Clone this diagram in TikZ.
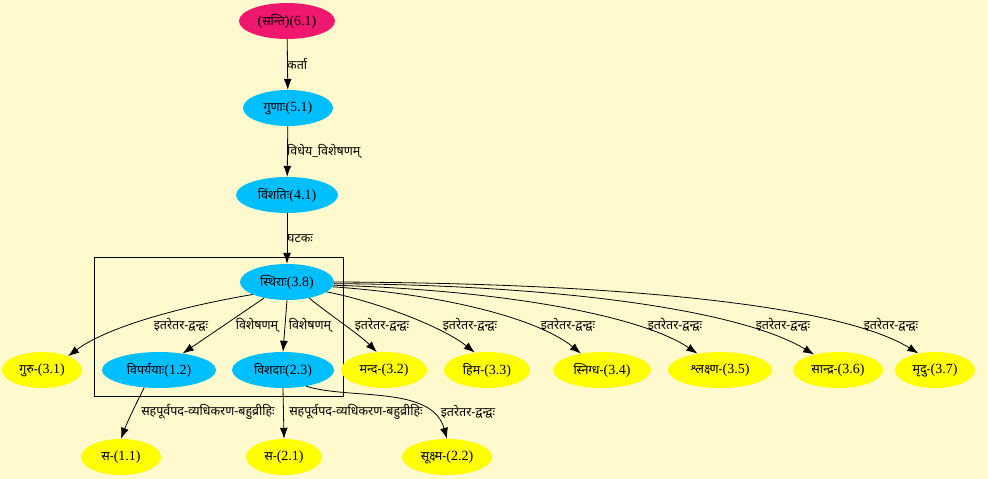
\documentclass[tikz,border=0pt]{standalone}
\usepackage{fontspec}
\setmainfont{Liberation Serif}
\newfontfamily\dev[Script=Devanagari]{Noto Sans}
\usetikzlibrary{shapes.geometric,arrows.meta}
\definecolor{bgc}{HTML}{FFFACD}
\definecolor{pinkc}{RGB}{240,24,110}
\definecolor{bluec}{HTML}{00BFFF}
\definecolor{yelc}{HTML}{FFFF00}
\newcommand{\zb}[1]{\makebox[0pt][c]{#1}}
\newcommand{\dv}[1]{{\dev\fontsize{12.5}{14}\selectfont #1}}
\begin{document}
\begin{tikzpicture}[x=1pt,y=-1pt,
  nd/.style={ellipse, inner sep=0pt, minimum height=36pt, font=\fontsize{14}{16}\selectfont},
  pk/.style={nd, fill=pinkc},
  bl/.style={nd, fill=bluec},
  yl/.style={nd, fill=yelc},
  lbl/.style={inner sep=0pt, font=\dev\fontsize{12.5}{14}\selectfont},
  edge/.style={draw=black, line width=0.8pt, -{Latex[length=11pt,width=8pt]}},
]
\fill[bgc] (0,0) rectangle (988,479);
\useasboundingbox (0,0) rectangle (988,479);
% cluster
\draw[black, line width=0.7pt] (94,257) rectangle (343,396);
% nodes
\node[pk, minimum width=96pt] (n61) at (287,21) {\zb{(\dv{सन्ति})(6.1)}};
\node[bl, minimum width=90pt] (n51) at (288,108) {\zb{\dv{गुणाः}(5.1)}};
\node[bl, minimum width=102pt] (n41) at (287,195) {\zb{\dv{विंशतिः}(4.1)}};
\node[bl, minimum width=94pt] (n38) at (287,282) {\zb{\dv{स्थिराः}(3.8)}};
\node[yl, minimum width=80pt] (n31) at (42,370) {\zb{\dv{गुरु-}(3.1)}};
\node[bl, minimum width=114pt] (n12) at (159,370) {\zb{\dv{विपर्ययाः}(1.2)}};
\node[bl, minimum width=102pt] (n23) at (283,370) {\zb{\dv{विशदाः}(2.3)}};
\node[yl, minimum width=86pt] (n32) at (384,370) {\zb{\dv{मन्द-}(3.2)}};
\node[yl, minimum width=86pt] (n33) at (487,370) {\zb{\dv{हिम-}(3.3)}};
\node[yl, minimum width=98pt] (n34) at (602,370) {\zb{\dv{स्निग्ध-}(3.4)}};
\node[yl, minimum width=104pt] (n35) at (720,370) {\zb{\dv{श्लक्ष्ण-}(3.5)}};
\node[yl, minimum width=90pt] (n36) at (838,370) {\zb{\dv{सान्द्र-}(3.6)}};
\node[yl, minimum width=80pt] (n37) at (935,370) {\zb{\dv{मृदु-}(3.7)}};
\node[yl, minimum width=80pt] (n11) at (121,457) {\zb{\dv{स-}(1.1)}};
\node[yl, minimum width=76pt] (n21) at (284,457) {\zb{\dv{स-}(2.1)}};
\node[yl, minimum width=90pt] (n22) at (447,457) {\zb{\dv{सूक्ष्म-}(2.2)}};
% edges
\draw[edge] (n61) -- (n51);
\draw[edge] (n51) -- (n41);
\draw[edge] (n41) -- (n38);
\draw[edge] (n38.200) .. controls (190,305) and (110,325) .. (n31.28);
\draw[edge] (n38.215) -- (n12.35);
\draw[edge] (n38.south) -- (n23.north);
\draw[edge] (n38.-36) .. controls (330,315) and (360,335) .. (n32.112);
\draw[edge] (n38.-14) .. controls (370,300) and (440,325) .. (n33.125);
\draw[edge] (n38.-6) .. controls (450,295) and (540,320) .. (n34.142);
\draw[edge] (n38.-4) .. controls (500,290) and (640,315) .. (n35.144);
\draw[edge] (n38.-2) .. controls (560,285) and (740,310) .. (n36.147);
\draw[edge] (n38.0) .. controls (620,283) and (840,305) .. (n37.135);
\draw[edge] (n12.230) .. controls (138,400) and (128,420) .. (n11.north);
\draw[edge] (n23.south) -- (n21.north);
\draw[edge] (n23.-35) .. controls (350,400) and (432,385) .. (n22.north);
% labels
\node[lbl, anchor=west] (l1) at (287,64) {कर्ता};
\node[lbl, anchor=west] (l2) at (287,151) {विधेय\_विशेषणम्};
\node[lbl, anchor=west] (l3) at (287,239) {घटकः};
\node[lbl] (l4) at (181,325) {इतरेतर-द्वन्द्वः};
\node[lbl] (l5) at (257,325) {विशेषणम्};
\node[lbl] (l6) at (310,325) {विशेषणम्};
\node[lbl] (l7) at (382,325) {इतरेतर-द्वन्द्वः};
\node[lbl] (l8) at (470,325) {इतरेतर-द्वन्द्वः};
\node[lbl] (l9) at (568,325) {इतरेतर-द्वन्द्वः};
\node[lbl] (l10) at (675,325) {इतरेतर-द्वन्द्वः};
\node[lbl] (l11) at (783,325) {इतरेतर-द्वन्द्वः};
\node[lbl] (l12) at (891,325) {इतरेतर-द्वन्द्वः};
\node[lbl] (l13) at (208,412) {सहपूर्वपद-व्यधिकरण-बहुव्रीहिः};
\node[lbl] (l14) at (356,412) {सहपूर्वपद-व्यधिकरण-बहुव्रीहिः};
\node[lbl] (l15) at (468,412) {इतरेतर-द्वन्द्वः};
\end{tikzpicture}
\end{document}
